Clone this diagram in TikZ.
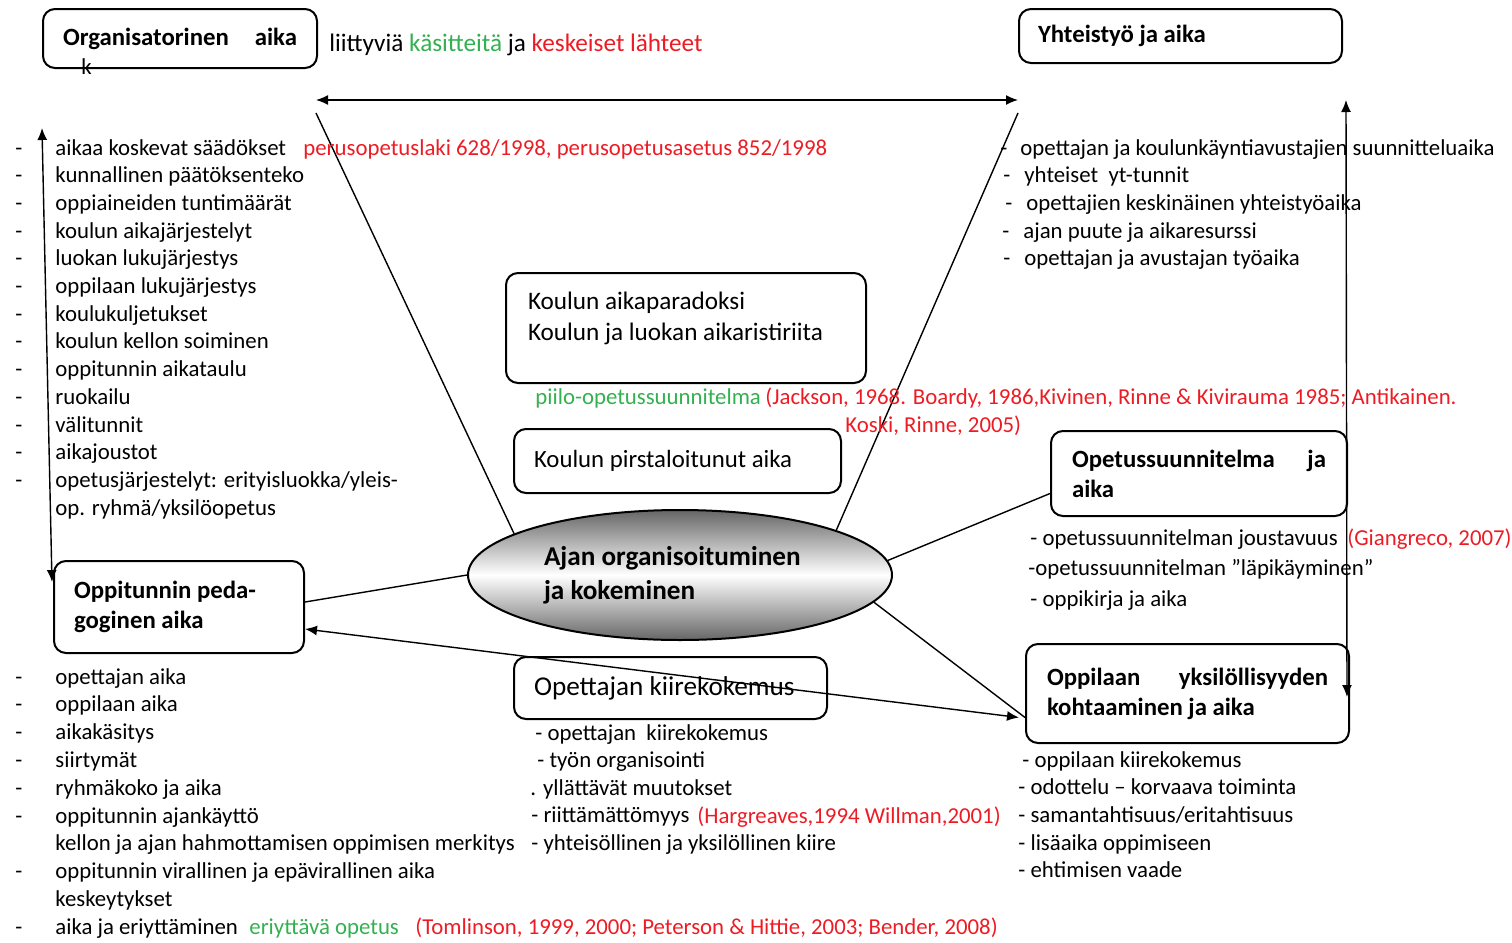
\documentclass[tikz,border=0pt]{standalone}
\usepackage{fontspec}
\setmainfont{Carlito}
\usetikzlibrary{arrows.meta,calc,positioning,shapes.geometric}
\definecolor{SrcClr}{RGB}{237,28,36}
\definecolor{TermClr}{RGB}{51,176,80}

\begin{document}
\begin{tikzpicture}[x=0.5pt,y=-0.5pt,
  box/.style={draw,rounded corners=6pt,line width=1pt,anchor=north west,align=flush left,inner ysep=0pt},
  hd/.style={font=\bfseries\fontsize{12.4}{15}\selectfont},
  item/.style={anchor=base west,inner sep=0pt,font=\fontsize{11.4}{13}\selectfont},
  link/.style={line width=0.7pt},
  dbl/.style={line width=0.7pt,{Latex[length=6pt,width=5pt]}-{Latex[length=6pt,width=5pt]}}]
\useasboundingbox (0,0) rectangle (1512,943);

% boxes
\node[box,hd,inner xsep=10pt,text width=117pt,minimum height=29.5pt] (org) at (42,8) {Organisatorinen\hfill aika};
\node[item] (orgk) at (81,74) {k};
\node[box,hd,inner xsep=9.5pt,text width=142.5pt,minimum height=27pt] (yht) at (1018,8) {Yhteistyö ja aika};
\node[box,inner xsep=11pt,text width=158pt,minimum height=55pt,font=\fontsize{12.6}{15.5}\selectfont] (par) at (505,272) {Koulun aikaparadoksi\\Koulun ja luokan aikaristiriita\\[-4pt]\mbox{}};
\node[box,inner xsep=10pt,text width=143.5pt,minimum height=32pt,font=\fontsize{12.4}{14}\selectfont] (pir) at (513,428) {Koulun pirstaloitunut aika};
\node[box,hd,inner xsep=10.5pt,text width=127pt,minimum height=42.5pt] (ops) at (1050,430) {Opetussuunnitelma\hfill ja\\aika};
\node[box,hd,inner xsep=10pt,text width=105pt,minimum height=46pt] (ped) at (53,560) {Oppitunnin peda-\\goginen aika};
\node[box,inner xsep=10pt,text width=136.5pt,minimum height=31pt,font=\fontsize{13.6}{15}\selectfont] (kii) at (513,656) {Opettajan kiirekokemus};
\node[box,hd,inner xsep=10.5pt,text width=140.5pt,minimum height=49.5pt] (yks) at (1025,643) {Oppilaan\hfill yksilöllisyyden\\kohtaaminen ja aika};

\coordinate (hL) at (316,100);
\coordinate (hR) at (1018,100);
\coordinate (vL) at (316,113);
\coordinate (vR) at (1018,113);
\coordinate (aTL) at (42,128);
\coordinate (aBL) at (52,582);
\coordinate (aTR) at (1346,100);
\coordinate (aBR) at (1347,697);

\node[ellipse,draw,line width=1pt,minimum width=212pt,minimum height=65pt,inner sep=0pt,
  top color=black!60,bottom color=black!60,middle color=white,
  text width=136pt,align=flush left,font=\bfseries\fontsize{13.6}{17}\selectfont] (ell) at (680,575) {Ajan organisoituminen\\ja kokeminen};

% connectors
\draw[link] (ell.166) -- (vL);
\draw[link] (ell.16) -- (vR);
\draw[link] (ell.180) -- ($(ped.east)+(0,-5)$);
\draw[link] (ell.4) -- ($(ops.west)+(0,20)$);
\draw[link] (ell.352) -- ($(yks.west)+(0,24)$);
\draw[dbl] (hL) -- (hR);
\draw[dbl] (aTL) -- (aBL);
\draw[dbl] (aTR) -- (aBR);
\draw[dbl] ($(ped.east)+(0,22)$) -- ($(yks.west)+(-6,24)$);

% texts
\node[item,font=\fontsize{12.6}{14}\selectfont] (leg) at (329,51) {liittyviä \textcolor{TermClr}{käsitteitä} ja \textcolor{SrcClr}{keskeiset lähteet}};

\foreach \txt [count=\i from 0] in {aikaa koskevat säädökset,kunnallinen päätöksenteko,oppiaineiden tuntimäärät,koulun aikajärjestelyt,luokan lukujärjestys,oppilaan lukujärjestys,koulukuljetukset,koulun kellon soiminen,oppitunnin aikataulu,ruokailu,välitunnit,aikajoustot,opetusjärjestelyt: erityisluokka/yleis-,op. ryhmä/yksilöopetus}{
  \node[item] (orgi-\i) at (55,155+27.7*\i) {\txt};
  \ifnum\i<13 \node[item] (orgd-\i) at (15,155+27.7*\i) {-}; \fi
}
\node[item,text=SrcClr] (orgs) at (303,155) {perusopetuslaki 628/1998, perusopetusasetus 852/1998};

\foreach \dx/\tx/\txt [count=\i from 0] in {1000/1020/opettajan ja koulunkäyntiavustajien suunnitteluaika,1003/1024/yhteiset\ \ yt-tunnit,1005/1026/opettajien keskinäinen yhteistyöaika,1002/1023/ajan puute ja aikaresurssi,1003/1024/opettajan ja avustajan työaika}{
  \node[item] (yhti-\i) at (\tx,155+27.7*\i) {\txt};
  \node[item] (yhtd-\i) at (\dx,155+27.7*\i) {-};
}

\node[item,text=TermClr] (piilo) at (535,404) {piilo-opetussuunnitelma};
\node[item,text=SrcClr] (piilos) at (765,404) {(Jackson, 1968. Boardy, 1986,Kivinen, Rinne \& Kivirauma 1985; Antikainen.};
\node[item,text=SrcClr] (piilos2) at (845,432) {Koski, Rinne, 2005)};

\foreach \tx/\txt [count=\i from 0] in {1030/- opetussuunnitelman joustavuus,1028/-opetussuunnitelman ”läpikäyminen”,1030/- oppikirja ja aika}{
  \node[item] (opsi-\i) at (\tx,545+30.5*\i) {\txt};
}
\node[item,text=SrcClr] (opss) at (1347,545) {(Giangreco, 2007)};

\foreach \d/\txt [count=\i from 0] in {1/opettajan aika,1/oppilaan aika,1/aikakäsitys,1/siirtymät,1/ryhmäkoko ja aika,1/oppitunnin ajankäyttö,0/kellon ja ajan hahmottamisen oppimisen merkitys,1/oppitunnin virallinen ja epävirallinen aika,0/keskeytykset,1/aika ja eriyttäminen}{
  \node[item] (pedi-\i) at (55,684+27.8*\i) {\txt};
  \ifnum\d=1 \node[item] (pedd-\i) at (15,684+27.8*\i) {-}; \fi
}
\node[item,text=TermClr] (pedg) at (249,934) {eriyttävä opetus};
\node[item,text=SrcClr] (peds) at (415,934) {(Tomlinson, 1999, 2000; Peterson \& Hittie, 2003; Bender, 2008)};

\foreach \tx/\txt [count=\i from 0] in {535/- opettajan\ \ kiirekokemus,537/- työn organisointi,530/. yllättävät muutokset,531/- riittämättömyys,531/- yhteisöllinen ja yksilöllinen kiire}{
  \node[item] (kiii-\i) at (\tx,740+27.5*\i) {\txt};
}
\node[item,text=SrcClr] (kiis) at (697,823) {(Hargreaves,1994 Willman,2001)};

\foreach \tx/\txt [count=\i from 0] in {1022/- oppilaan kiirekokemus,1018/- odottelu – korvaava toiminta,1018/{- samantahtisuus/eritahtisuus},1018/- lisäaika oppimiseen,1018/- ehtimisen vaade}{
  \node[item] (yksi-\i) at (\tx,767+27.7*\i) {\txt};
}
\end{tikzpicture}
\end{document}
